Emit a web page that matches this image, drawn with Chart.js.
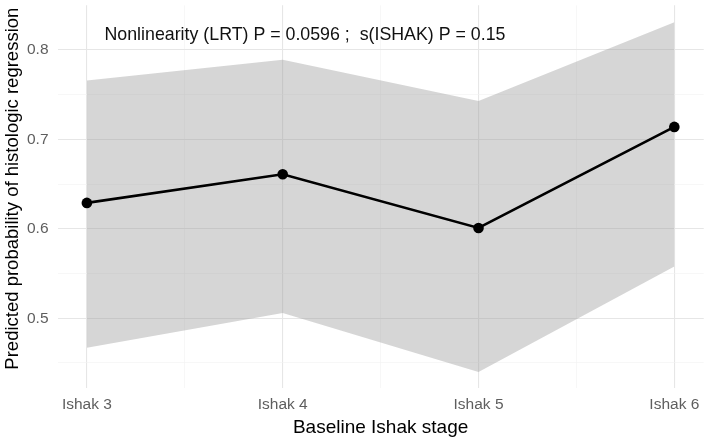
<!DOCTYPE html>
<html>
<head>
<meta charset="utf-8">
<script src="https://cdn.jsdelivr.net/npm/chart.js@4/dist/chart.umd.min.js"></script>
<style>
  html, body { margin: 0; padding: 0; background: #ffffff; }
  #wrap { width: 709px; height: 441px; }
</style>
</head>
<body>
<div id="wrap"><canvas id="c" width="709" height="441"></canvas></div>
<script>
// ---- data ----
const categories = ['Ishak 3', 'Ishak 4', 'Ishak 5', 'Ishak 6'];
const stages = [3, 4, 5, 6];
const predicted = [0.629, 0.661, 0.601, 0.714];
const upperCI = [0.766, 0.789, 0.743, 0.831];
const lowerCI = [0.467, 0.506, 0.440, 0.558];
const yTicks = [0.45, 0.5, 0.55, 0.6, 0.65, 0.7, 0.75, 0.8];
const xTicks = [3, 3.5, 4, 4.5, 5, 5.5, 6];
const annotationText = 'Nonlinearity (LRT) P = 0.0596 ;  s(ISHAK) P = 0.15';
const annotationPos = { x: 3.09, y: 0.811 };
const xTitle = 'Baseline Ishak stage';
const yTitle = 'Predicted probability of histologic regression';

const FONT = '"Liberation Sans", Arial, Helvetica, sans-serif';
const toPts = arr => arr.map((v, i) => ({ x: stages[i], y: v }));
const labelFor = v => {
  const i = stages.indexOf(v);
  return i >= 0 ? categories[i] : '';
};
const isMajorX = v => stages.indexOf(v) >= 0;
const isMajorY = v => Math.abs(Math.round(v * 10) - v * 10) < 1e-6;

const annotationPlugin = {
  id: 'annot',
  afterDatasetsDraw(chart) {
    const { ctx, scales } = chart;
    ctx.save();
    ctx.font = '17.8px ' + FONT;
    ctx.fillStyle = '#111111';
    ctx.textAlign = 'left';
    ctx.textBaseline = 'alphabetic';
    ctx.fillText(annotationText, scales.x.getPixelForValue(annotationPos.x), scales.y.getPixelForValue(annotationPos.y));
    ctx.restore();
  },
  afterDraw(chart) {
    const { ctx, chartArea } = chart;
    ctx.save();
    ctx.font = '18.5px ' + FONT;
    ctx.fillStyle = '#000000';
    ctx.textAlign = 'center';
    ctx.textBaseline = 'middle';
    ctx.translate(12.5, (chartArea.top + chartArea.bottom) / 2 - 8);
    ctx.rotate(-Math.PI / 2);
    ctx.fillText(yTitle, 0, 0);
    ctx.restore();
  }
};

new Chart(document.getElementById('c'), {
  type: 'line',
  data: {
    datasets: [
      {
        label: 'lower',
        data: toPts(lowerCI),
        borderWidth: 0,
        borderColor: 'rgba(0,0,0,0)',
        pointRadius: 0,
        fill: false,
        order: 3
      },
      {
        label: 'upper',
        data: toPts(upperCI),
        borderWidth: 0,
        borderColor: 'rgba(0,0,0,0)',
        backgroundColor: 'rgba(153,153,153,0.4)',
        pointRadius: 0,
        fill: '-1',
        order: 2
      },
      {
        label: 'predicted',
        data: toPts(predicted),
        borderColor: '#000000',
        backgroundColor: '#000000',
        borderWidth: 2.6,
        pointRadius: 5.3,
        pointBorderWidth: 0,
        pointBackgroundColor: '#000000',
        fill: false,
        tension: 0,
        order: 1
      }
    ]
  },
  options: {
    responsive: false,
    animation: false,
    devicePixelRatio: 1,
    layout: { padding: { top: 5, right: 4, left: 0, bottom: 0 } },
    plugins: {
      legend: { display: false },
      tooltip: { enabled: false },
      filler: { propagate: false }
    },
    scales: {
      x: {
        type: 'linear',
        min: 2.85,
        max: 6.15,
        afterBuildTicks: s => { s.ticks = xTicks.map(v => ({ value: v })); },
        afterFit: s => { s.height = 53; s.paddingLeft = 0; s.paddingRight = 0; },
        border: { display: false },
        grid: {
          drawTicks: false,
          color: c => isMajorX(c.tick ? c.tick.value : 0) ? '#e6e6e6' : '#f2f2f2',
          lineWidth: c => isMajorX(c.tick ? c.tick.value : 0) ? 1.1 : 0.6
        },
        ticks: {
          autoSkip: false,
          maxRotation: 0,
          padding: 7,
          color: '#5e5e5e',
          font: { family: FONT, size: 15.5 },
          callback: v => labelFor(v)
        },
        title: {
          display: true,
          text: xTitle,
          color: '#000000',
          font: { family: FONT, size: 19, lineHeight: 1.2 },
          padding: { top: 0, bottom: 2 }
        }
      },
      y: {
        type: 'linear',
        min: 0.422,
        max: 0.850,
        afterBuildTicks: s => { s.ticks = yTicks.map(v => ({ value: v })); },
        afterFit: s => { s.width = 57.5; s.paddingTop = 0; s.paddingBottom = 0; },
        border: { display: false },
        grid: {
          drawTicks: false,
          color: c => isMajorY(c.tick ? c.tick.value : 0) ? '#e6e6e6' : '#f2f2f2',
          lineWidth: c => isMajorY(c.tick ? c.tick.value : 0) ? 1.1 : 0.6
        },
        ticks: {
          padding: 9,
          color: '#5e5e5e',
          font: { family: FONT, size: 15.5 },
          callback: v => isMajorY(v) ? v.toFixed(1) : ''
        }
      }
    }
  },
  plugins: [annotationPlugin]
});
</script>
</body>
</html>
